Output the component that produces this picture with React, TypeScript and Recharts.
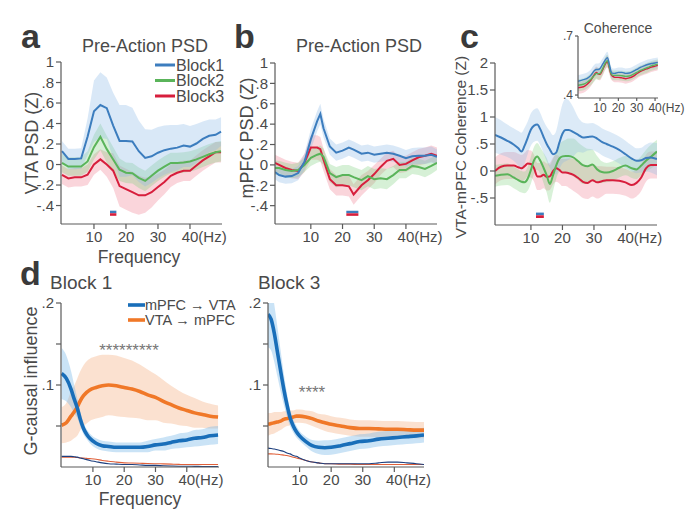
import React from 'react';
import { ComposedChart, Line, Area, XAxis, YAxis, ReferenceArea } from 'recharts';

const W = 699;
const H = 510;
const TXT = '#4a4a4a';
const AXIS = '#5a5a5a';
const FONT = '"Liberation Sans", Arial, Helvetica, sans-serif';
const BLUE = '#3c7dbe', GREEN = '#5ab45a', RED = '#d71e3c';
const BLUE_F = '#8ab8e6', GREEN_F = '#7fcf7f', RED_F = '#f07b8f';
const DBLUE = '#196eb9', DORANGE = '#f07828';
const DBLUE_F = '#7ab8e8', DORANGE_F = '#f4b48a';
const DBLUE_THIN = '#1d3f7e', DORANGE_THIN = '#e0603a';

// ---------- tick values ----------
const X_TICKS = [10, 20, 30, 40];
const PSD_Y_TICKS = [-0.4, -0.2, 0, 0.2, 0.4, 0.6, 0.8, 1];
const COH_Y_TICKS = [-0.5, 0, 0.5, 1, 1.5, 2];
const INSET_Y_TICKS = [0.4, 0.7];
const GC_Y_TICKS = [0.05, 0.1, 0.15, 0.2];
const GC_Y_LABELED = [0.1, 0.2];

// ---------- panel a (VTA PSD) ----------
const FREQ_A = [0, 2, 4, 6, 8, 10, 12, 14, 16, 18, 20, 22, 24, 26, 28, 30, 32, 34, 36, 38, 40, 42, 44, 46, 48, 49.7];
const A_BLUE = [0.13, 0.055, 0.055, 0.06, 0.27, 0.52, 0.58, 0.55, 0.38, 0.23, 0.23, 0.225, 0.13, 0.065, 0.08, 0.115, 0.14, 0.155, 0.165, 0.185, 0.175, 0.205, 0.25, 0.28, 0.29, 0.32];
const A_BLUE_HW = [0.1, 0.1, 0.1, 0.1, 0.18, 0.3, 0.32, 0.3, 0.32, 0.35, 0.35, 0.33, 0.3, 0.28, 0.26, 0.25, 0.24, 0.23, 0.22, 0.21, 0.2, 0.19, 0.17, 0.16, 0.15, 0.14];
const A_GREEN = [0.015, -0.02, -0.02, -0.02, 0.03, 0.17, 0.27, 0.15, 0.05, -0.05, -0.08, -0.085, -0.13, -0.16, -0.11, -0.06, -0.02, 0.015, 0.015, 0.02, 0.03, 0.05, 0.075, 0.1, 0.12, 0.13];
const A_GREEN_HW = [0.09, 0.09, 0.09, 0.09, 0.1, 0.12, 0.13, 0.13, 0.12, 0.11, 0.1, 0.1, 0.1, 0.1, 0.1, 0.1, 0.1, 0.1, 0.1, 0.1, 0.1, 0.1, 0.1, 0.1, 0.1, 0.1];
const A_RED = [-0.1, -0.135, -0.125, -0.125, -0.1, 0.0, 0.05, 0.0, -0.06, -0.21, -0.24, -0.27, -0.3, -0.3, -0.27, -0.22, -0.17, -0.11, -0.08, -0.06, -0.06, -0.01, 0.04, 0.08, 0.12, 0.12];
const A_RED_HW = [0.09, 0.09, 0.09, 0.09, 0.1, 0.1, 0.1, 0.12, 0.17, 0.2, 0.2, 0.2, 0.19, 0.17, 0.15, 0.13, 0.12, 0.11, 0.1, 0.1, 0.1, 0.1, 0.1, 0.1, 0.1, 0.1];
const A_SIG = [15, 17];
const PSD_SIG_Y = [-0.45, -0.475, -0.5];

// ---------- panel b (mPFC PSD) ----------
const FREQ_B = [-1.3, 0, 2, 4, 6, 8, 10, 12, 13, 14, 16, 18, 20, 22, 23.5, 26, 28, 30, 32, 34, 36, 38, 40, 42, 44, 46, 48, 49.8];
const B_BLUE = [-0.07, -0.1, -0.115, -0.11, -0.08, 0.03, 0.25, 0.43, 0.5, 0.36, 0.18, 0.12, 0.14, 0.17, 0.15, 0.11, 0.12, 0.1, 0.11, 0.12, 0.11, 0.09, 0.065, 0.085, 0.09, 0.09, 0.1, 0.08];
const B_BLUE_HW = [0.07, 0.07, 0.07, 0.07, 0.07, 0.08, 0.1, 0.1, 0.1, 0.09, 0.08, 0.08, 0.08, 0.08, 0.08, 0.08, 0.08, 0.08, 0.08, 0.08, 0.08, 0.08, 0.08, 0.08, 0.08, 0.08, 0.08, 0.07];
const B_GREEN = [-0.03, -0.03, -0.05, -0.06, -0.05, 0.0, 0.07, 0.1, 0.11, 0.08, -0.08, -0.12, -0.1, -0.1, -0.12, -0.15, -0.11, -0.14, -0.13, -0.14, -0.1, -0.05, -0.05, -0.01, -0.02, -0.04, -0.01, 0.02];
const B_GREEN_HW = [0.07, 0.07, 0.07, 0.07, 0.07, 0.07, 0.08, 0.08, 0.08, 0.08, 0.09, 0.1, 0.1, 0.1, 0.1, 0.1, 0.1, 0.1, 0.1, 0.1, 0.09, 0.08, 0.08, 0.08, 0.08, 0.08, 0.08, 0.07];
const B_RED = [0.02, 0.0, -0.03, -0.05, -0.06, 0.02, 0.17, 0.17, 0.155, 0.05, -0.14, -0.2, -0.2, -0.21, -0.29, -0.2, -0.15, -0.09, -0.02, 0.04, 0.06, 0.0, 0.01, 0.045, 0.075, 0.09, 0.11, 0.09];
const B_RED_HW = [0.08, 0.08, 0.08, 0.08, 0.08, 0.09, 0.12, 0.12, 0.12, 0.11, 0.1, 0.1, 0.1, 0.1, 0.1, 0.1, 0.09, 0.09, 0.08, 0.08, 0.08, 0.08, 0.08, 0.08, 0.08, 0.08, 0.08, 0.08];
const B_SIG = [21.2, 25];

// ---------- panel c (coherence) ----------
const FREQ_C = [-1.4, 0.5, 2.5, 4.5, 6, 7, 8, 9, 10, 11, 12, 13, 14, 15, 16, 17, 18, 19, 20, 21, 22, 23.5, 25, 26.5, 28, 29.5, 31, 32.5, 34, 36, 38, 40, 42, 43.5, 45, 46.5, 48, 50];
const C_BLUE = [0.67, 0.62, 0.56, 0.49, 0.42, 0.36, 0.47, 0.62, 0.77, 0.84, 0.86, 0.77, 0.63, 0.5, 0.4, 0.31, 0.34, 0.52, 0.69, 0.76, 0.76, 0.72, 0.67, 0.62, 0.63, 0.64, 0.6, 0.54, 0.5, 0.45, 0.39, 0.31, 0.23, 0.19, 0.2, 0.24, 0.25, 0.22];
const C_BLUE_HW = [0.33, 0.32, 0.3, 0.3, 0.32, 0.35, 0.33, 0.3, 0.3, 0.3, 0.3, 0.3, 0.3, 0.32, 0.34, 0.35, 0.4, 0.48, 0.55, 0.58, 0.55, 0.45, 0.32, 0.28, 0.25, 0.25, 0.25, 0.25, 0.25, 0.25, 0.25, 0.25, 0.24, 0.23, 0.23, 0.25, 0.28, 0.3];
const C_GREEN = [-0.09, -0.07, -0.06, -0.12, -0.17, -0.2, -0.21, -0.14, 0.02, 0.2, 0.27, 0.19, 0.06, -0.08, -0.24, -0.08, 0.1, 0.23, 0.27, 0.28, 0.28, 0.25, 0.18, 0.11, 0.09, 0.12, 0.03, -0.02, -0.03, 0.0, 0.06, 0.1, 0.05, 0.03, 0.1, 0.19, 0.26, 0.36];
const C_GREEN_HW = [0.2, 0.2, 0.2, 0.2, 0.2, 0.2, 0.2, 0.22, 0.25, 0.25, 0.25, 0.25, 0.28, 0.32, 0.35, 0.3, 0.25, 0.25, 0.28, 0.3, 0.32, 0.35, 0.35, 0.35, 0.32, 0.28, 0.25, 0.2, 0.18, 0.18, 0.18, 0.18, 0.18, 0.18, 0.18, 0.2, 0.22, 0.22];
const C_RED = [0.0, 0.08, 0.1, 0.1, 0.07, 0.05, 0.09, 0.14, 0.13, 0.05, -0.1, -0.1, -0.07, -0.11, -0.1, 0.0, 0.05, 0.02, -0.03, -0.03, -0.04, -0.07, -0.13, -0.2, -0.22, -0.17, -0.21, -0.19, -0.17, -0.17, -0.18, -0.21, -0.26, -0.22, -0.12, 0.05, 0.11, 0.11];
const C_RED_HW = [0.25, 0.25, 0.25, 0.25, 0.25, 0.25, 0.25, 0.25, 0.25, 0.25, 0.25, 0.25, 0.25, 0.25, 0.25, 0.25, 0.25, 0.25, 0.25, 0.25, 0.27, 0.3, 0.3, 0.3, 0.3, 0.3, 0.3, 0.28, 0.25, 0.25, 0.25, 0.25, 0.25, 0.25, 0.25, 0.25, 0.25, 0.25];
const C_SIG = [11.6, 14.1];
const COH_SIG_Y = [-0.77, -0.82, -0.87];

// ---------- inset (raw coherence) ----------
const FREQ_I = [-2, 1, 3, 5, 7, 8, 9, 10, 11, 12, 13, 14, 15, 16, 17, 18, 20, 22, 24, 26, 28, 30, 32, 34, 36, 38, 40, 41.5];
const I_BLUE = [0.47, 0.478, 0.485, 0.5, 0.525, 0.53, 0.53, 0.535, 0.55, 0.565, 0.58, 0.59, 0.56, 0.52, 0.51, 0.51, 0.515, 0.515, 0.51, 0.512, 0.52, 0.53, 0.54, 0.548, 0.555, 0.56, 0.563, 0.566];
const I_GREEN = [0.45, 0.455, 0.465, 0.48, 0.5, 0.51, 0.508, 0.51, 0.525, 0.545, 0.565, 0.575, 0.545, 0.51, 0.5, 0.5, 0.5, 0.498, 0.495, 0.497, 0.505, 0.515, 0.525, 0.533, 0.54, 0.548, 0.553, 0.557];
const I_RED = [0.437, 0.442, 0.455, 0.475, 0.505, 0.515, 0.508, 0.505, 0.52, 0.54, 0.56, 0.57, 0.54, 0.505, 0.495, 0.49, 0.49, 0.487, 0.483, 0.487, 0.495, 0.508, 0.52, 0.528, 0.535, 0.542, 0.547, 0.551];
const I_HW = [0.03, 0.03, 0.03, 0.03, 0.03, 0.03, 0.03, 0.03, 0.03, 0.03, 0.03, 0.03, 0.03, 0.025, 0.025, 0.025, 0.025, 0.025, 0.025, 0.025, 0.025, 0.025, 0.025, 0.025, 0.025, 0.025, 0.025, 0.025];

// ---------- panel d, block 1 ----------
const FREQ_D1 = [0, 1.5, 3, 4, 5, 6, 7, 8, 9, 11, 13, 15, 17.5, 20, 22.5, 25, 27.5, 30, 32.5, 35, 37.5, 40, 42.5, 45, 47.5, 50];
const D1_BLUE = [0.114, 0.108, 0.095, 0.083, 0.072, 0.058, 0.047, 0.04, 0.035, 0.029, 0.026, 0.025, 0.024, 0.024, 0.024, 0.024, 0.025, 0.027, 0.028, 0.03, 0.032, 0.033, 0.035, 0.036, 0.038, 0.039];
const D1_BLUE_HW = [0.031, 0.028, 0.022, 0.017, 0.012, 0.009, 0.007, 0.006, 0.006, 0.006, 0.006, 0.006, 0.006, 0.006, 0.006, 0.006, 0.007, 0.007, 0.008, 0.008, 0.009, 0.009, 0.01, 0.01, 0.011, 0.011];
const D1_ORANGE = [0.051, 0.054, 0.062, 0.067, 0.073, 0.081, 0.087, 0.091, 0.094, 0.097, 0.099, 0.1, 0.099, 0.097, 0.095, 0.092, 0.088, 0.085, 0.08, 0.076, 0.072, 0.069, 0.066, 0.064, 0.062, 0.061];
const D1_ORANGE_HW = [0.022, 0.024, 0.03, 0.032, 0.035, 0.036, 0.037, 0.038, 0.038, 0.038, 0.038, 0.037, 0.037, 0.036, 0.035, 0.033, 0.031, 0.028, 0.026, 0.023, 0.021, 0.019, 0.018, 0.016, 0.015, 0.014];
const D1_BLUE_THIN = [0.013, 0.013, 0.013, 0.0125, 0.012, 0.011, 0.01, 0.009, 0.008, 0.0065, 0.005, 0.004, 0.0035, 0.003, 0.003, 0.0025, 0.002, 0.002, 0.0015, 0.0012, 0.001, 0.001, 0.0008, 0.0007, 0.0006, 0.0005];
const D1_ORANGE_THIN = [0.012, 0.012, 0.012, 0.0118, 0.0115, 0.011, 0.0108, 0.0105, 0.0102, 0.0095, 0.008, 0.007, 0.006, 0.005, 0.0048, 0.0045, 0.0042, 0.004, 0.0038, 0.0035, 0.0032, 0.003, 0.003, 0.003, 0.003, 0.003];

// ---------- panel d, block 3 ----------
const FREQ_D3 = [0, 1, 2, 3, 4, 5, 6, 7, 8, 9, 10, 12, 14, 16, 18, 20, 23, 26, 29, 32, 35, 38, 41, 44, 47, 49.4];
const D3_BLUE = [0.186, 0.18, 0.163, 0.14, 0.117, 0.095, 0.076, 0.06, 0.05, 0.043, 0.038, 0.031, 0.026, 0.024, 0.0235, 0.024, 0.026, 0.0285, 0.031, 0.032, 0.034, 0.035, 0.036, 0.037, 0.038, 0.039];
const D3_BLUE_HW = [0.04, 0.038, 0.035, 0.03, 0.025, 0.019, 0.014, 0.01, 0.008, 0.007, 0.006, 0.006, 0.007, 0.008, 0.009, 0.009, 0.009, 0.009, 0.009, 0.009, 0.009, 0.009, 0.009, 0.009, 0.009, 0.009];
const D3_ORANGE = [0.052, 0.053, 0.054, 0.055, 0.056, 0.058, 0.059, 0.06, 0.061, 0.062, 0.062, 0.061, 0.059, 0.056, 0.054, 0.052, 0.05, 0.048, 0.047, 0.047, 0.0465, 0.046, 0.046, 0.0455, 0.045, 0.045];
const D3_ORANGE_HW = [0.014, 0.013, 0.013, 0.012, 0.011, 0.01, 0.009, 0.009, 0.008, 0.008, 0.008, 0.008, 0.009, 0.009, 0.01, 0.01, 0.01, 0.01, 0.01, 0.01, 0.01, 0.01, 0.01, 0.01, 0.01, 0.01];
const D3_BLUE_THIN = [0.023, 0.0225, 0.022, 0.021, 0.02, 0.019, 0.017, 0.016, 0.014, 0.013, 0.011, 0.008, 0.006, 0.005, 0.004, 0.004, 0.004, 0.004, 0.004, 0.004, 0.005, 0.006, 0.006, 0.005, 0.004, 0.003];
const D3_ORANGE_THIN = [0.016, 0.016, 0.0158, 0.0155, 0.015, 0.0145, 0.014, 0.013, 0.012, 0.011, 0.01, 0.008, 0.006, 0.005, 0.004, 0.004, 0.0035, 0.0035, 0.003, 0.003, 0.003, 0.003, 0.003, 0.003, 0.003, 0.003];

const LEGEND_A = ['Block1', 'Block2', 'Block3'];
const LEGEND_D = ['mPFC \u2192 VTA', 'VTA \u2192 mPFC'];

// ---------- helpers ----------
const band = (m: number[], hw: number[], i: number) => [m[i] - hw[i], m[i] + hw[i]];

const rows3 = (F: number[], b: number[], bh: number[], g: number[], gh: number[], r: number[], rh: number[]) =>
  F.map((f, i) => ({
    f,
    blue: b[i], blueBand: band(b, bh, i),
    green: g[i], greenBand: band(g, gh, i),
    red: r[i], redBand: band(r, rh, i),
  }));

const rowsGC = (F: number[], b: number[], bh: number[], o: number[], oh: number[], bt: number[], ot: number[]) =>
  F.map((f, i) => ({
    f,
    blue: b[i], blueBand: band(b, bh, i),
    orange: o[i], orangeBand: band(o, oh, i),
    blueThin: bt[i], orangeThin: ot[i],
  }));

const rowsA = rows3(FREQ_A, A_BLUE, A_BLUE_HW, A_GREEN, A_GREEN_HW, A_RED, A_RED_HW);
const rowsB = rows3(FREQ_B, B_BLUE, B_BLUE_HW, B_GREEN, B_GREEN_HW, B_RED, B_RED_HW);
const rowsC = rows3(FREQ_C, C_BLUE, C_BLUE_HW, C_GREEN, C_GREEN_HW, C_RED, C_RED_HW);
const rowsI = rows3(FREQ_I, I_BLUE, I_HW, I_GREEN, I_HW, I_RED, I_HW);
const rowsD1 = rowsGC(FREQ_D1, D1_BLUE, D1_BLUE_HW, D1_ORANGE, D1_ORANGE_HW, D1_BLUE_THIN, D1_ORANGE_THIN);
const rowsD3 = rowsGC(FREQ_D3, D3_BLUE, D3_BLUE_HW, D3_ORANGE, D3_ORANGE_HW, D3_BLUE_THIN, D3_ORANGE_THIN);

const fmt = (v: number) => {
  if (v === 0) return '0';
  const s = String(Math.abs(Math.round(v * 100) / 100)).replace(/^0\./, '.');
  return (v < 0 ? '-' : '') + s;
};
const gcFmt = (v: number) => (GC_Y_LABELED.includes(v) ? fmt(v) : '');

const margins = (l: number, t: number, r: number, b: number, yw: number, xh: number) => ({
  top: t, left: l - yw, right: W - r, bottom: H - b - xh,
});

const freqTick = (fs: number) => (p: any) => {
  const v = p.payload.value;
  const last = v === 40;
  return (
    <text x={last ? p.x - fs * 0.556 : p.x} y={p.y} dy="0.71em" fontSize={fs} fill={TXT}
      textAnchor={last ? 'start' : 'middle'}>{last ? '40(Hz)' : String(v)}</text>
  );
};

const Layer = ({ children }: { children: React.ReactNode }) => (
  <div style={{ position: 'absolute', left: 0, top: 0 }}>{children}</div>
);

const axisStyle = { stroke: AXIS, strokeWidth: 1.2 };

function threeSeries(curve: 'linear' | 'monotone', lw: number, op: number) {
  return [
    <Area key="rb" type={curve} dataKey="redBand" stroke="none" fill={RED_F} fillOpacity={op} isAnimationActive={false} dot={false} activeDot={false} />,
    <Line key="rl" type={curve} dataKey="red" stroke={RED} strokeWidth={lw} dot={false} activeDot={false} isAnimationActive={false} />,
    <Area key="gb" type={curve} dataKey="greenBand" stroke="none" fill={GREEN_F} fillOpacity={op} isAnimationActive={false} dot={false} activeDot={false} />,
    <Line key="gl" type={curve} dataKey="green" stroke={GREEN} strokeWidth={lw} dot={false} activeDot={false} isAnimationActive={false} />,
    <Area key="bb" type={curve} dataKey="blueBand" stroke="none" fill={BLUE_F} fillOpacity={op} isAnimationActive={false} dot={false} activeDot={false} />,
    <Line key="bl" type={curve} dataKey="blue" stroke={BLUE} strokeWidth={lw} dot={false} activeDot={false} isAnimationActive={false} />,
  ];
}

function gcSeries() {
  return [
    <Area key="ob" type="monotone" dataKey="orangeBand" stroke="none" fill={DORANGE_F} fillOpacity={0.4} isAnimationActive={false} dot={false} activeDot={false} />,
    <Area key="bb" type="monotone" dataKey="blueBand" stroke="none" fill={DBLUE_F} fillOpacity={0.4} isAnimationActive={false} dot={false} activeDot={false} />,
    <Line key="ot" type="monotone" dataKey="orangeThin" stroke={DORANGE_THIN} strokeWidth={1.1} dot={false} activeDot={false} isAnimationActive={false} />,
    <Line key="bt" type="monotone" dataKey="blueThin" stroke={DBLUE_THIN} strokeWidth={1.1} dot={false} activeDot={false} isAnimationActive={false} />,
    <Line key="ol" type="monotone" dataKey="orange" stroke={DORANGE} strokeWidth={3.6} dot={false} activeDot={false} isAnimationActive={false} />,
    <Line key="bl" type="monotone" dataKey="blue" stroke={DBLUE} strokeWidth={3.6} dot={false} activeDot={false} isAnimationActive={false} />,
  ];
}

function sigBars(range: number[], ys: number[]) {
  return [
    <ReferenceArea key="s1" x1={range[0]} x2={range[1]} y1={ys[1]} y2={ys[0]} fill={BLUE} fillOpacity={1} stroke="none" />,
    <ReferenceArea key="s2" x1={range[0]} x2={range[1]} y1={ys[2]} y2={ys[1]} fill={RED} fillOpacity={1} stroke="none" />,
  ];
}

function axes(xDomain: number[], yDomain: number[], yTicks: number[], yFmt: (v: number) => string, fs: number, yw: number, xh: number, ts: number) {
  return [
    <XAxis key="x" dataKey="f" type="number" domain={xDomain} ticks={X_TICKS} interval={0} allowDataOverflow
      height={xh} tickSize={ts} tickMargin={2} axisLine={axisStyle} tickLine={axisStyle} tick={freqTick(fs)} />,
    <YAxis key="y" type="number" domain={yDomain} ticks={yTicks} interval={0} allowDataOverflow width={yw}
      tickSize={ts} tickMargin={2} axisLine={axisStyle} tickLine={axisStyle} tickFormatter={yFmt}
      tick={{ fontSize: fs, fill: TXT }} />,
  ];
}

export default function App() {
  return (
    <div style={{ position: 'absolute', left: 0, top: 0, width: W, height: H, background: '#fff', fontFamily: FONT, overflow: 'hidden' }}>
      {/* panel a */}
      <Layer>
        <ComposedChart width={W} height={H} data={rowsA} margin={margins(61, 62, 222, 224, 40, 30)}>
          {axes([-0.3, 50], [-0.58, 1], PSD_Y_TICKS, fmt, 15, 40, 30, 5)}
          {threeSeries('linear', 2, 0.32)}
          {sigBars(A_SIG, PSD_SIG_Y)}
        </ComposedChart>
      </Layer>
      {/* panel b */}
      <Layer>
        <ComposedChart width={W} height={H} data={rowsB} margin={margins(275, 63, 437, 224, 40, 30)}>
          {axes([-1.3, 49.8], [-0.58, 1], PSD_Y_TICKS, fmt, 15, 40, 30, 5)}
          {threeSeries('linear', 2, 0.32)}
          {sigBars(B_SIG, PSD_SIG_Y)}
        </ComposedChart>
      </Layer>
      {/* panel c */}
      <Layer>
        <ComposedChart width={W} height={H} data={rowsC} margin={margins(495, 63, 657, 225, 40, 30)}>
          {axes([-1.4, 50], [-1, 2], COH_Y_TICKS, fmt, 15, 40, 30, 5)}
          {threeSeries('monotone', 2, 0.3)}
          {sigBars(C_SIG, COH_SIG_Y)}
        </ComposedChart>
      </Layer>
      {/* inset */}
      <Layer>
        <ComposedChart width={W} height={H} data={rowsI} margin={margins(578, 36, 658, 98, 25, 20)}>
          {axes([-2, 41.6], [0.385, 0.7], INSET_Y_TICKS, fmt, 12, 25, 20, 3)}
          {threeSeries('monotone', 1.4, 0.3)}
        </ComposedChart>
      </Layer>
      {/* panel d block 1 */}
      <Layer>
        <ComposedChart width={W} height={H} data={rowsD1} margin={margins(61, 303, 219, 467, 40, 30)}>
          {axes([-0.2, 50.3], [0, 0.2], GC_Y_TICKS, gcFmt, 15, 40, 30, 5)}
          {gcSeries()}
        </ComposedChart>
      </Layer>
      {/* panel d block 3 */}
      <Layer>
        <ComposedChart width={W} height={H} data={rowsD3} margin={margins(268, 303, 424, 467, 40, 30)}>
          {axes([0, 49.4], [0, 0.2], GC_Y_TICKS, gcFmt, 15, 40, 30, 5)}
          {gcSeries()}
        </ComposedChart>
      </Layer>

      {/* text overlay */}
      <svg width={W} height={H} style={{ position: 'absolute', left: 0, top: 0, pointerEvents: 'none' }} fontFamily={FONT}>
        <g fontWeight="bold" fontSize={34} fill="#3a3a3a">
          <text x={21} y={48}>a</text>
          <text x={234} y={48}>b</text>
          <text x={460} y={48}>c</text>
          <text x={20} y={285}>d</text>
        </g>
        <g fill={TXT}>
          <text x={145} y={52} fontSize={18} textAnchor="middle">Pre-Action PSD</text>
          <text x={359} y={52} fontSize={18} textAnchor="middle">Pre-Action PSD</text>
          <text x={618} y={33} fontSize={14} textAnchor="middle">Coherence</text>
          <text x={50} y={289} fontSize={19}>Block 1</text>
          <text x={258} y={289} fontSize={19}>Block 3</text>

          <text transform="rotate(-90 32 143)" x={32} y={143} dy="0.35em" fontSize={18} textAnchor="middle">VTA PSD (Z)</text>
          <text transform="rotate(-90 247 138)" x={247} y={138} dy="0.35em" fontSize={18} textAnchor="middle">mPFC PSD (Z)</text>
          <text transform="rotate(-90 461 147)" x={461} y={147} dy="0.35em" fontSize={15.5} textAnchor="middle">VTA-mPFC Coherence (Z)</text>
          <text transform="rotate(-90 31 381)" x={31} y={381} dy="0.35em" fontSize={18} textAnchor="middle">G-causal influence</text>

          <text x={139} y={263} fontSize={17.5} textAnchor="middle">Frequency</text>
          <text x={140} y={505} fontSize={17.5} textAnchor="middle">Frequency</text>
        </g>
        {LEGEND_A.map((name, i) => (
          <g key={name}>
            <line x1={155} x2={175} y1={65 + i * 15.5} y2={65 + i * 15.5} stroke={[BLUE, GREEN, RED][i]} strokeWidth={3} />
            <text x={176} y={70.5 + i * 15.5} fontSize={16} fill={TXT}>{name}</text>
          </g>
        ))}
        {LEGEND_D.map((name, i) => (
          <g key={name}>
            <line x1={128} x2={145} y1={305 + i * 15} y2={305 + i * 15} stroke={[DBLUE, DORANGE][i]} strokeWidth={3.6} />
            <text x={145} y={310 + i * 15} fontSize={14.5} fill={TXT}>{name}</text>
          </g>
        ))}
        <text x={129} y={356} fontSize={17} textAnchor="middle" fill="#777">*********</text>
        <text x={312} y={398} fontSize={17} textAnchor="middle" fill="#777">****</text>
      </svg>
    </div>
  );
}
